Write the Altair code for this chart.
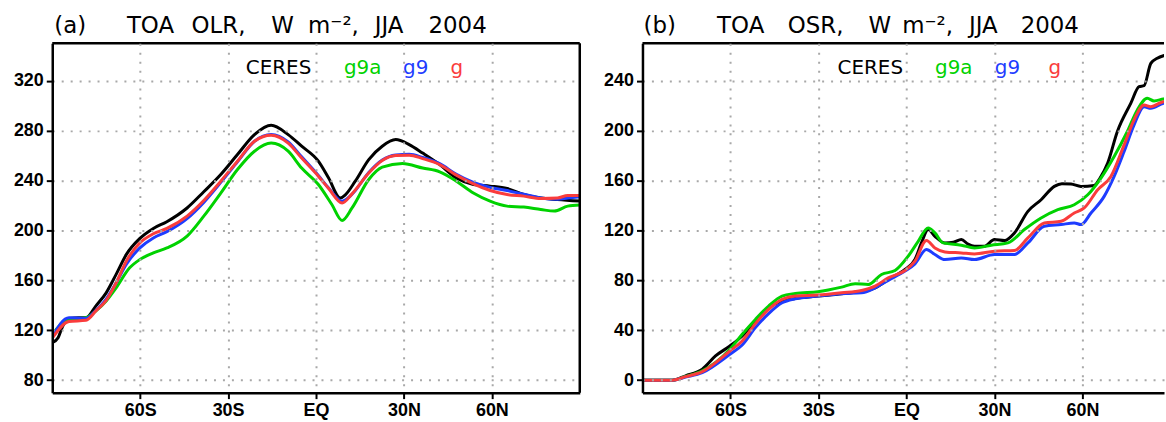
import altair as alt
import pandas as pd

# ---------------- data ----------------
SERIES = ["CERES", "g9a", "g9", "g"]
COLORS = ["#000000", "#00d200", "#1e3cff", "#fa3c3c"]

LAT_TICKS = [-60, -30, 0, 30, 60]
LAT_LABELS = ["60S", "30S", "EQ", "30N", "60N"]
OLR_TICKS = [80, 120, 160, 200, 240, 280, 320]
OSR_TICKS = [0, 40, 80, 120, 160, 200, 240]

# (a) TOA OLR
olr_ceres_lat = [-90, -88, -86.5, -84.3, -81, -78.5, -75.1, -71.6, -68.2, -64.7, -60.1, -55.5, -50.9, -44, -38.3,
                 -32.5, -26.8, -21, -15.3, -9.5, -4.9, 0.8, 4.3, 8.3, 10, 13.4, 18, 22.6, 27.2, 31.8, 36.4, 42.2,
                 47.9, 53.7, 59.4, 65.2, 70.9, 76.7, 82.4, 90]
olr_ceres = [110, 114, 123, 129.5, 130, 130, 139.5, 150, 164.8, 180.8, 193.6, 201.6, 207, 218, 231,
             244.8, 260.8, 276.8, 284.3, 276.8, 267.5, 255.5, 242, 226, 228.5, 239.5, 256.8, 267.5, 272.8, 268.8,
             262, 252.8, 242, 236.8, 235.5, 233.6, 228.8, 226, 224.8, 223.5]

olr_g9a_lat = [-90, -84.3, -78.5, -75.1, -71.6, -68.2, -63.6, -60.1, -55.5, -50.9, -44, -38.3, -32.5, -26.8, -21,
               -15.3, -9.5, -4.9, 0.8, 5.4, 8.9, 12.3, 18, 22.6, 29.5, 36.4, 42.2, 47.9, 53.7, 59.4, 65.2, 70.9,
               76.7, 81.3, 85.9, 90]
olr_g9a = [116.8, 128.8, 130, 135.5, 143.5, 154, 170, 176.7, 182, 186, 195.5, 211.5, 230, 248.8, 263.5,
           270, 263.5, 250, 236.8, 220.8, 208, 218, 240.8, 250.7, 253.6, 250, 247, 239.5, 230, 223.5, 219.5, 218.7,
           216.8, 215.5, 219.5, 220.3]

olr_g9_lat = [-90, -84.3, -78.5, -75.1, -71.6, -68.2, -64.7, -60.1, -55.5, -50.9, -44, -38.3, -32.5, -26.8, -21,
              -15.3, -9.5, -4.9, 0.8, 4.3, 8.9, 12.3, 18, 22.6, 27.2, 31.8, 36.4, 42.2, 47.9, 53.7, 59.4, 65.2,
              70.9, 76.7, 82.4, 86, 90]
olr_g9 = [115, 130, 129.5, 136, 145, 158, 173, 186, 194, 199, 209.5, 222.5, 238.5, 255, 271.5,
          277, 271, 259, 244, 234, 223.5, 229, 246.5, 256.5, 260.5, 261, 258.5, 253.5, 245, 238.5, 234.5, 232,
          229, 226, 225, 226, 227]

olr_g_lat = [-90, -84.3, -78.5, -75.1, -71.6, -68.2, -64.7, -60.1, -55.5, -50.9, -44, -38.3, -32.5, -26.8, -21,
             -15.3, -9.5, -4.9, 0.8, 4.3, 8.9, 12.3, 18, 22.6, 27.2, 31.8, 36.4, 42.2, 47.9, 53.7, 59.4, 65.2,
             70.9, 76.7, 82.4, 85.9, 90]
olr_g = [113.6, 127, 128, 135.5, 144, 158, 175.5, 190, 197.3, 201.6, 211.5, 224, 239.5, 255.5, 271.5,
         276.3, 270, 258, 243.5, 233.6, 222, 229.3, 246, 256, 260, 260.3, 257.6, 252.8, 244.3, 237.3, 232, 228.8,
         227.5, 225.6, 226, 228, 228]

# (b) TOA OSR
osr_ceres_lat = [-90, -79.8, -75.3, -69.6, -65.1, -60.2, -56, -51.5, -47, -42.4, -37.9, -30.2, -22.1, -16.4, -10.7,
                 -6.2, -0.5, 2.9, 5.1, 7.4, 9.7, 13.1, 16, 18.7, 21, 23.2, 26.6, 30, 33.4, 36.8, 41.4, 45.9, 50.4,
                 53, 56.1, 59.5, 64, 66, 68.6, 71.9, 76.5, 79.3, 81, 83.3, 85.5, 87.6, 90]
osr_ceres = [0, 0, 3.5, 8.8, 19.4, 27.4, 35.4, 47.4, 58, 63.4, 65.5, 67.4, 69.3, 70.9, 74,
             80.7, 88.7, 96.7, 110, 120.7, 115.3, 110, 110.5, 112.7, 109, 107.4, 107.4, 112.7, 111.9, 118, 135.3,
             144.6, 155.3, 157.5, 157.2, 155.3, 156, 162, 174, 199.3, 222, 235.2, 236, 253.9, 258, 260, 261]

osr_g9a_lat = [-90, -79.8, -75.3, -69.6, -60.2, -56, -51.5, -47, -42.4, -37.9, -30.2, -22.1, -17.5, -13, -8.5,
               -3.9, 0.6, 4, 7.4, 9.7, 12.5, 18.7, 23.2, 28.9, 34.6, 40.2, 45.9, 51.6, 57.2, 61.8, 66.3, 70.8, 75.3,
               78.7, 82.1, 84.4, 87.6, 90]
osr_g9a = [0, 0, 3, 7.5, 24.8, 36.8, 48.7, 59.4, 67.4, 69.5, 70.9, 74.6, 77.3, 76.7, 84.7,
           87.9, 99.4, 111.3, 122, 118, 110, 108.2, 106, 108.2, 110, 120.7, 130, 136.7, 140.6, 148.6, 162, 179.3,
           199.3, 216.6, 225.9, 223.8, 225.4, 226]

osr_g9_lat = [-90, -79.8, -75.3, -69.6, -60.2, -56, -51.5, -47, -42.4, -37.9, -30.2, -22.1, -15.3, -10.7, -6.2,
              -0.5, 2.9, 6.8, 9.7, 13.1, 18.7, 23.2, 30, 36.8, 41.4, 47, 52.7, 57.2, 59.5, 62.9, 67.4, 70.8, 74.2,
              77.6, 81, 83.3, 87.6, 90]
osr_g9 = [0, 0, 2.5, 6.1, 20.8, 28.2, 42.1, 53.3, 62, 65.3, 67.4, 69.3, 70, 74, 80,
          87.4, 93.2, 104.7, 100.7, 96.7, 98, 96.7, 100.7, 100.7, 110, 123.3, 124.7, 126, 124.7, 134, 147.3, 163.3,
          183.3, 204.6, 219.2, 217.9, 221.9, 222.5]

osr_g_lat = [-90, -79.8, -75.3, -69.6, -60.2, -56, -51.5, -47, -42.4, -37.9, -30.2, -22.1, -15.3, -10.7, -6.2,
             -0.5, 2.9, 6.8, 9.7, 13.1, 18.7, 23.2, 30, 36.8, 41.4, 47, 52.7, 57.2, 60.6, 65.2, 69.7, 74.2, 77.6,
             81, 83.3, 87.6, 90]
osr_g = [0, 0, 2.8, 6.9, 23.4, 31.4, 45.3, 56.7, 64.7, 67.4, 68.2, 70, 71.9, 75.4, 82,
         87.9, 95.4, 111.9, 106, 102.8, 102, 101.2, 103.4, 103.9, 114, 126, 127.3, 134, 138, 152.6, 163.3, 188.6,
         208.6, 220.6, 219.2, 223.2, 223.5]

# ---------------- styling ----------------
H = 351
W_LEFT = 530
W_RIGHT = 524
LABEL_FONT = "Liberation Sans"
TEXT_FONT = "DejaVu Sans"

label_expr = "{}[indexof({}, datum.value)]".format(
    "[" + ",".join("'%s'" % s for s in LAT_LABELS) + "]",
    "[" + ",".join(str(v) for v in LAT_TICKS) + "]",
)

common_axis = dict(
    grid=True, gridColor="#a8a8a8", gridDash=[2, 7], gridWidth=2,
    domainColor="black", domainWidth=2.5, tickColor="black", tickWidth=2, tickSize=6,
    labelFont=LABEL_FONT, labelFontWeight="bold", labelFontSize=18, labelColor="black",
    labelPadding=3, title=None, zindex=1,
)


def one():
    return pd.DataFrame({"k": [0]})


def text_at(txt, x, y, size, color="black"):
    return alt.Chart(pd.DataFrame({"t": [txt]})).mark_text(
        align="left", baseline="alphabetic", font=TEXT_FONT, fontSize=size, color=color
    ).encode(text="t:N", x=alt.value(x), y=alt.value(y))


def panel(series_data, ydom, yticks, xmax, width, title_words, legend_x, right_edge):
    layers = []
    xenc = alt.X("lat:Q", scale=alt.Scale(domain=[-90, xmax], nice=False, zero=False),
                 axis=alt.Axis(values=LAT_TICKS, labelExpr=label_expr, **common_axis))
    yenc = alt.Y("val:Q", scale=alt.Scale(domain=ydom, nice=False, zero=False),
                 axis=alt.Axis(values=yticks, **common_axis))
    for name, color, (lats, vals) in zip(SERIES, COLORS, series_data):
        df = pd.DataFrame({"lat": lats, "val": vals})
        layers.append(
            alt.Chart(df).mark_line(strokeWidth=3, interpolate="monotone", clip=True, color=color)
            .encode(x=xenc, y=yenc)
        )
    # frame top (and right)
    layers.append(alt.Chart(one()).mark_rule(color="black", strokeWidth=2.5)
                  .encode(x=alt.value(0), x2=alt.value(width), y=alt.value(0)))
    if right_edge:
        layers.append(alt.Chart(one()).mark_rule(color="black", strokeWidth=2.5)
                      .encode(x=alt.value(width), y=alt.value(0), y2=alt.value(H)))
    for txt, x in title_words:
        layers.append(text_at(txt, x, -10.5, 23))
    for (txt, color), x in zip(zip(SERIES, COLORS), legend_x):
        layers.append(text_at(txt, x, 31, 20, color))
    return alt.layer(*layers).properties(width=width, height=H)


left = panel(
    [(olr_ceres_lat, olr_ceres), (olr_g9a_lat, olr_g9a), (olr_g9_lat, olr_g9), (olr_g_lat, olr_g)],
    [70, 350], OLR_TICKS, 90, W_LEFT,
    [("(a)", 2), ("TOA", 75), ("OLR,", 140), ("W", 220), ("m⁻²,", 257), ("JJA", 324), ("2004", 378)],
    [194.5, 293, 352.5, 400], True,
)
right = panel(
    [(osr_ceres_lat, osr_ceres), (osr_g9a_lat, osr_g9a), (osr_g9_lat, osr_g9), (osr_g_lat, osr_g)],
    [-10, 270], OSR_TICKS, 87.8, W_RIGHT,
    [("(b)", 1), ("TOA", 75), ("OSR,", 146), ("W", 227), ("m⁻²,", 261), ("JJA", 328), ("2004", 380)],
    [196, 294, 354, 408], False,
)

chart = alt.hconcat(left, right, spacing=21).properties(
    padding={"left": 12.5, "top": 13.5, "right": 0, "bottom": 0},
    background="white",
).configure_view(stroke=None)

chart.save("out.html", embed_options={"renderer": "svg", "actions": False})
